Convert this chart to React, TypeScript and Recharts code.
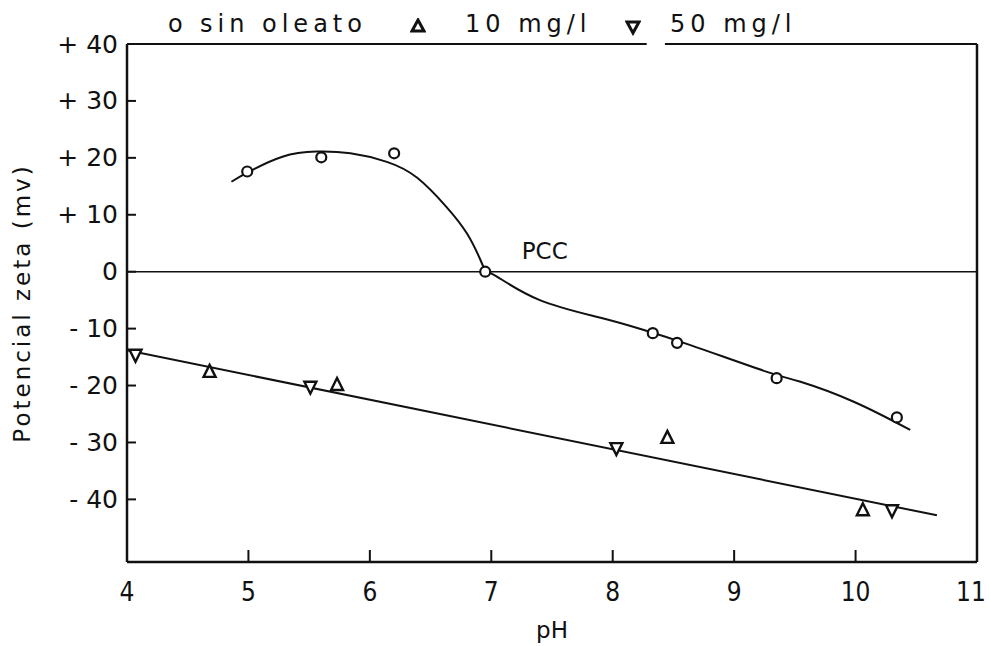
import {
  ComposedChart,
  Line,
  Scatter,
  XAxis,
  YAxis,
  Legend,
  ReferenceLine,
  ReferenceDot,
} from "recharts";

// pH vs potencial zeta
const phSinOleato = [4.99, 5.6, 6.2, 6.95, 8.33, 8.53, 9.35, 10.34];
const zetaSinOleato = [17.6, 20.1, 20.8, 0, -10.8, -12.5, -18.7, -25.6];

const ph10 = [4.68, 5.73, 8.45, 10.06];
const zeta10 = [-17.6, -19.9, -29.2, -41.9];

const ph50 = [4.07, 5.51, 8.03, 10.3];
const zeta50 = [-14.6, -20.2, -31.0, -41.9];

// hand-drawn curve through the "sin oleato" points (arc up to the PCC, then the tail)
const arcPh = [4.86, 4.99, 5.28, 5.56, 5.84, 6.14, 6.39, 6.63, 6.8, 6.91, 6.95];
const arcZeta = [15.8, 17.4, 20.2, 21.1, 20.8, 19.3, 16.5, 11.4, 6.7, 2.1, 0];
const tailPh = [6.95, 7.05, 7.4, 7.9, 8.25, 8.64, 9.27, 9.54, 9.98, 10.45];
const tailZeta = [0, -0.9, -5.0, -8.1, -10.2, -12.9, -17.6, -19.3, -22.8, -27.8];

// straight line drawn through both oleate series
const fitPh = [4, 10.67];
const fitZeta = [-13.8, -42.8];

const xTicks = [4, 5, 6, 7, 8, 9, 10, 11];
const yTicks = [-40, -30, -20, -10, 0, 10, 20, 30, 40];

const zip = (xs: number[], ys: number[]) => xs.map((x, i) => ({ x, y: ys[i] }));

const font = "'DejaVu Sans', sans-serif";
const ink = "#111";

const fmtY = (v: number) => (v > 0 ? `+ ${v}` : v < 0 ? `- ${-v}` : "0");

function YTick({ x, y, payload }: any) {
  return (
    <g>
      {payload.value !== 40 && <line x1={x} x2={x + 9} y1={y} y2={y} stroke={ink} strokeWidth={2} />}
      <text x={x - 9} y={y} textAnchor="end" dominantBaseline="central" fontSize={25} fill={ink} fontFamily={font}>
        {fmtY(payload.value)}
      </text>
    </g>
  );
}

function XTick({ x, y, payload }: any) {
  const edge = payload.value === 4 || payload.value === 11;
  const dx = payload.value === 11 ? -6 : 0;
  return (
    <g>
      {!edge && <line x1={x} x2={x} y1={y} y2={y - 12} stroke={ink} strokeWidth={2} />}
      <text x={x + dx} y={y + 30} textAnchor="middle" dominantBaseline="central" fontSize={26} fill={ink} fontFamily="'DejaVu Sans Condensed', sans-serif">
        {payload.value}
      </text>
    </g>
  );
}

const Circ = ({ cx, cy }: any) => <circle cx={cx} cy={cy} r={5} fill="#fff" stroke={ink} strokeWidth={2.2} />;
const TriUp = ({ cx, cy }: any) => (
  <path d={`M${cx},${cy - 7} L${cx + 6},${cy + 5} L${cx - 6},${cy + 5} Z`} fill="#fff" stroke={ink} strokeWidth={2.4} />
);
const TriDown = ({ cx, cy }: any) => (
  <path d={`M${cx - 6},${cy - 5} L${cx + 6},${cy - 5} L${cx},${cy + 7} Z`} fill="#fff" stroke={ink} strokeWidth={2.4} />
);

function TopLegend() {
  const t = { position: "absolute" as const, top: 4, fontSize: 24, letterSpacing: 5, fontFamily: font, color: ink, whiteSpace: "nowrap" as const };
  return (
    <div style={{ position: "relative", height: 30, width: 989 }}>
      <span style={{ ...t, left: 168 }}>o</span>
      <span style={{ ...t, left: 200 }}>sin oleato</span>
      <svg style={{ position: "absolute", left: 410, top: 12 }} width={16} height={16}>
        <path d="M8,2 L14,13 L2,13 Z" fill="none" stroke={ink} strokeWidth={3} />
      </svg>
      <span style={{ ...t, left: 465 }}>10 mg/l</span>
      <svg style={{ position: "absolute", left: 625, top: 14 }} width={16} height={16}>
        <path d="M2,2 L14,2 L8,13 Z" fill="none" stroke={ink} strokeWidth={3} />
      </svg>
      <span style={{ ...t, left: 670 }}>50 mg/l</span>
    </div>
  );
}

export default function App() {
  return (
    <div style={{ position: "absolute", left: 0, top: 0, width: 989, height: 646, background: "#fff", fontFamily: font }}>
      <ComposedChart width={989} height={646} margin={{ top: 14, right: 12, bottom: 0, left: 0 }}>
        <Legend verticalAlign="top" align="left" content={<TopLegend />} wrapperStyle={{ left: 0, top: 6 }} />
        <XAxis
          type="number"
          dataKey="x"
          domain={[4, 11]}
          ticks={xTicks}
          height={84}
          tickSize={0}
          tickMargin={0}
          tickLine={false}
          tick={<XTick />}
          axisLine={{ stroke: ink, strokeWidth: 2.5 }}
          allowDataOverflow
          label={{ value: "pH", position: "insideBottom", offset: 8, fontSize: 23, fill: ink, fontFamily: font }}
        />
        <YAxis
          type="number"
          domain={[-51, 40]}
          ticks={yTicks}
          width={127}
          tickSize={0}
          tickMargin={0}
          tickLine={false}
          tick={<YTick />}
          axisLine={{ stroke: ink, strokeWidth: 2.5 }}
          allowDataOverflow
          label={{
            value: "Potencial zeta (mv)",
            angle: -90,
            position: "insideLeft",
            offset: 22,
            fontSize: 23,
            fill: ink,
            fontFamily: font,
            style: { textAnchor: "middle", letterSpacing: 3 },
          }}
        />
        <ReferenceLine x={11} stroke={ink} strokeWidth={2.5} />
        <ReferenceLine segment={[{ x: 4, y: 40 }, { x: 8.28, y: 40 }]} stroke={ink} strokeWidth={2} />
        <ReferenceLine segment={[{ x: 8.43, y: 40 }, { x: 11, y: 40 }]} stroke={ink} strokeWidth={2} />
        <ReferenceLine y={0} stroke={ink} strokeWidth={1.5} />
        <ReferenceDot x={7.44} y={3.6} r={0} label={{ value: "PCC", position: "center", fontSize: 23, fill: ink, fontFamily: font }} />
        <Line data={zip(arcPh, arcZeta)} dataKey="y" type="natural" stroke={ink} strokeWidth={2} dot={false} isAnimationActive={false} />
        <Line data={zip(tailPh, tailZeta)} dataKey="y" type="natural" stroke={ink} strokeWidth={2} dot={false} isAnimationActive={false} />
        <Line data={zip(fitPh, fitZeta)} dataKey="y" type="linear" stroke={ink} strokeWidth={2} dot={false} isAnimationActive={false} />
        <Scatter data={zip(phSinOleato, zetaSinOleato)} dataKey="y" shape={<Circ />} isAnimationActive={false} />
        <Scatter data={zip(ph10, zeta10)} dataKey="y" shape={<TriUp />} isAnimationActive={false} />
        <Scatter data={zip(ph50, zeta50)} dataKey="y" shape={<TriDown />} isAnimationActive={false} />
      </ComposedChart>
    </div>
  );
}
